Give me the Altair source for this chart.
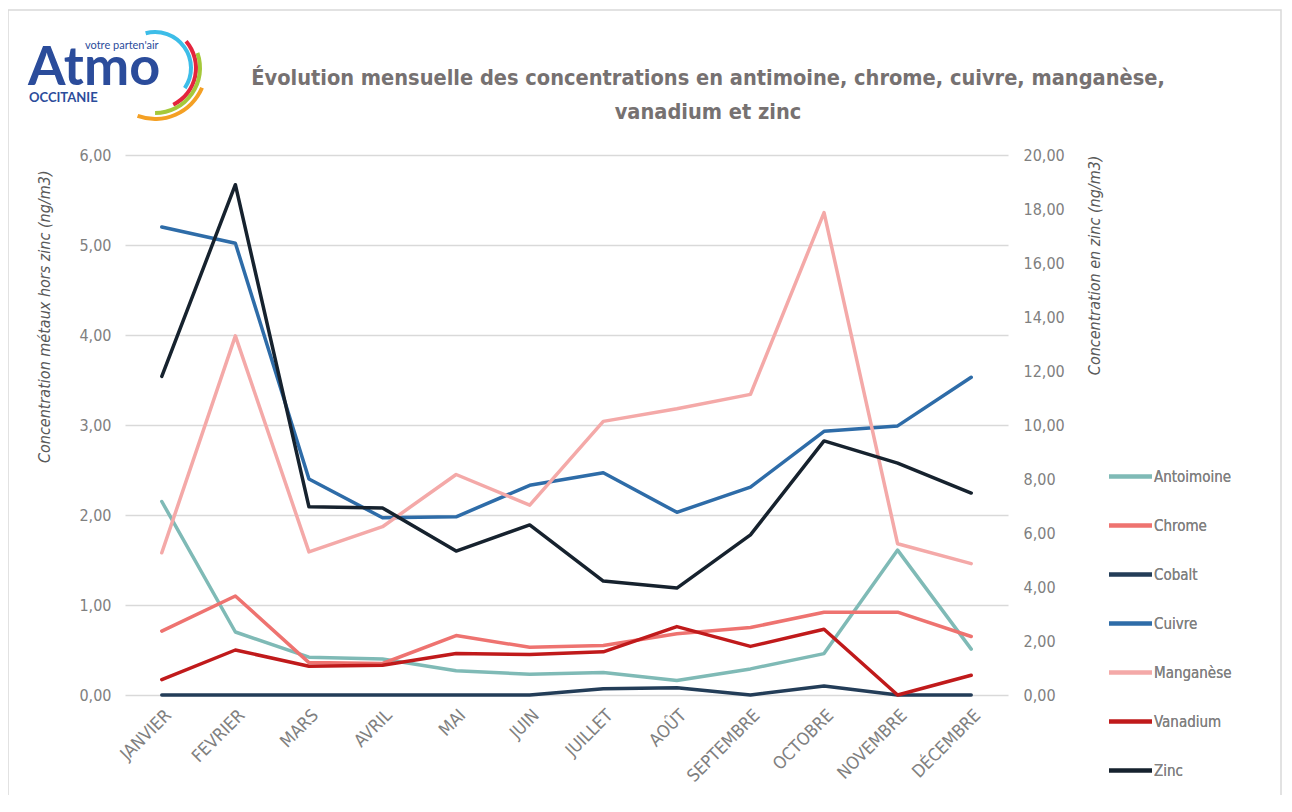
import altair as alt
import pandas as pd

months = ["JANVIER", "FEVRIER", "MARS", "AVRIL", "MAI", "JUIN", "JUILLET",
          "AOÛT", "SEPTEMBRE", "OCTOBRE", "NOVEMBRE", "DÉCEMBRE"]

antimoine = [2.15, 0.70, 0.42, 0.40, 0.27, 0.23, 0.25, 0.16, 0.29, 0.46, 1.61, 0.51]
chrome = [0.71, 1.10, 0.36, 0.35, 0.66, 0.53, 0.55, 0.68, 0.75, 0.92, 0.92, 0.65]
cobalt = [0.00, 0.00, 0.00, 0.00, 0.00, 0.00, 0.07, 0.08, 0.00, 0.10, 0.00, 0.00]
cuivre = [5.20, 5.02, 2.40, 1.97, 1.98, 2.33, 2.47, 2.03, 2.31, 2.93, 2.99, 3.53]
manganese = [1.58, 3.99, 1.59, 1.87, 2.45, 2.11, 3.04, 3.18, 3.34, 5.36, 1.68, 1.46]
vanadium = [0.17, 0.50, 0.32, 0.33, 0.46, 0.45, 0.48, 0.76, 0.54, 0.73, 0.00, 0.22]
zinc = [11.8, 18.9, 6.97, 6.93, 5.33, 6.30, 4.22, 3.96, 5.93, 9.41, 8.59, 7.48]

series_names = ["Antoimoine", "Chrome", "Cobalt", "Cuivre", "Manganèse", "Vanadium", "Zinc"]
series_colors = ["#7FBAB6", "#EE7370", "#233D58", "#2E6CA8", "#F4A9A8", "#C01A1B", "#16222E"]

title_line1 = "Évolution mensuelle des concentrations en antimoine, chrome, cuivre, manganèse,"
title_line2 = "vanadium et zinc"
left_title = "Concentration métaux hors zinc (ng/m3)"
right_title = "Concentration en zinc (ng/m3)"

FONT = "Liberation Sans Narrow, DejaVu Sans Condensed, Roboto, sans-serif"
GRAY = "#808080"

rows = []
for name, vals in zip(series_names[:-1], [antimoine, chrome, cobalt, cuivre, manganese, vanadium]):
    for m, v in zip(months, vals):
        rows.append({"mois": m, "metal": name, "valeur": v})
df_left = pd.DataFrame(rows)
df_zinc = pd.DataFrame({"mois": months, "metal": "Zinc", "valeur": zinc})

num_expr = "replace(format(datum.value, '.2f'), '.', ',')"

xenc = alt.X("mois:O", sort=months, scale=alt.Scale(type="point", padding=0.5),
             axis=alt.Axis(title=None, labelAngle=-45, domain=False, ticks=False,
                           labelPadding=11, labelFontSize=17.5, labelColor=GRAY,
                           labelFont=FONT, grid=False))
color = alt.Color("metal:N", scale=alt.Scale(domain=series_names, range=series_colors),
                  sort=series_names,
                  legend=alt.Legend(title=None, orient="none", legendX=982, legendY=298,
                                    symbolType="stroke", symbolSize=1849, symbolStrokeWidth=4,
                                    labelFontSize=15, labelColor=GRAY, labelFont=FONT,
                                    labelOffset=0, rowPadding=17, padding=0))

left = alt.Chart(df_left).mark_line(strokeWidth=3.5, strokeCap="round", strokeJoin="round").encode(
    x=xenc,
    y=alt.Y("valeur:Q", scale=alt.Scale(domain=[0, 6]),
            axis=alt.Axis(title=left_title, values=[0, 1, 2, 3, 4, 5, 6], labelExpr=num_expr,
                          domain=False, ticks=False, gridColor="#D9D9D9", gridWidth=1.5,
                          labelPadding=14, labelFontSize=16, labelColor=GRAY, labelFont=FONT,
                          titleFont=FONT, titleFontSize=16, titleFontStyle="italic",
                          titleFontWeight="normal", titleColor="#595959",
                          titleAnchor="end", titleY=15, titlePadding=26)),
    color=color,
)

right = alt.Chart(df_zinc).mark_line(strokeWidth=3.5, strokeCap="round", strokeJoin="round").encode(
    x=xenc,
    y=alt.Y("valeur:Q", scale=alt.Scale(domain=[0, 20]),
            axis=alt.Axis(title=right_title, orient="right", values=list(range(0, 21, 2)),
                          labelExpr=num_expr, grid=False, domain=False, ticks=False,
                          labelPadding=15, labelFontSize=16, labelColor=GRAY, labelFont=FONT,
                          titleFont=FONT, titleFontSize=16, titleFontStyle="italic",
                          titleFontWeight="normal", titleColor="#595959", titleAngle=270,
                          titleAnchor="end", titleY=0, titlePadding=38)),
    color=color,
)

one = alt.Data(values=[{"k": 1}])

frame = alt.Chart(one).mark_rect(fillOpacity=0, stroke="#D9D9D9", strokeWidth=1.5).encode(
    x=alt.value(-117), x2=alt.value(1156), y=alt.value(-145), y2=alt.value(642))

arc_df = pd.DataFrame({
    "r": [34, 39, 43, 49],
    "t1": [6.02, 0.86, 1.23, 1.97],
    "t2": [8.45, 2.68, 3.14, 3.49],
    "c": ["#3DBDE8", "#E4243D", "#A5C83A", "#F4A024"],
})
arcs = alt.Chart(arc_df).mark_arc().encode(
    x=alt.value(30), y=alt.value(-87),
    theta=alt.Theta("t1:Q", scale=None), theta2="t2:Q",
    radius=alt.Radius("r:Q", scale=None),
    radius2=alt.Radius2("r2:Q"),
    color=alt.Color("c:N", scale=None),
).transform_calculate(r2="datum.r + 4")

logo_main = alt.Chart(one).mark_text(text="Atmo", font="Lato", fontSize=54, fontWeight="bold",
                                     color="#2B4C9B", align="left", baseline="alphabetic").encode(
    x=alt.value(-97), y=alt.value(-70))
logo_top = alt.Chart(one).mark_text(text="votre parten'air", font="Lato", fontSize=11,
                                    color="#2B4C9B", align="left", baseline="alphabetic").encode(
    x=alt.value(-40), y=alt.value(-106))
logo_sub = alt.Chart(one).mark_text(text="OCCITANIE", font="Lato", fontSize=13, fontWeight="bold",
                                    color="#2B4C9B", align="left", baseline="alphabetic").encode(
    x=alt.value(-96), y=alt.value(-53))

title_style = dict(font=FONT, fontSize=21.6, fontWeight="bold", color="#767171",
                   align="center", baseline="middle")
title1 = alt.Chart(one).mark_text(text=title_line1, **title_style).encode(
    x=alt.value(583), y=alt.value(-76))
title2 = alt.Chart(one).mark_text(text=title_line2, **title_style).encode(
    x=alt.value(583), y=alt.value(-42))

chart = alt.layer(frame, arcs, logo_main, logo_top, logo_sub, title1, title2, left, right).resolve_scale(
    y="independent", color="independent"
).properties(
    width=883, height=540,
    padding={"left": 117, "top": 147, "right": 276, "bottom": 100},
    autosize=alt.AutoSizeParams(type="none"),
).configure_view(stroke=None)

chart.save("out.html", embed_options={"renderer": "svg", "actions": False})
